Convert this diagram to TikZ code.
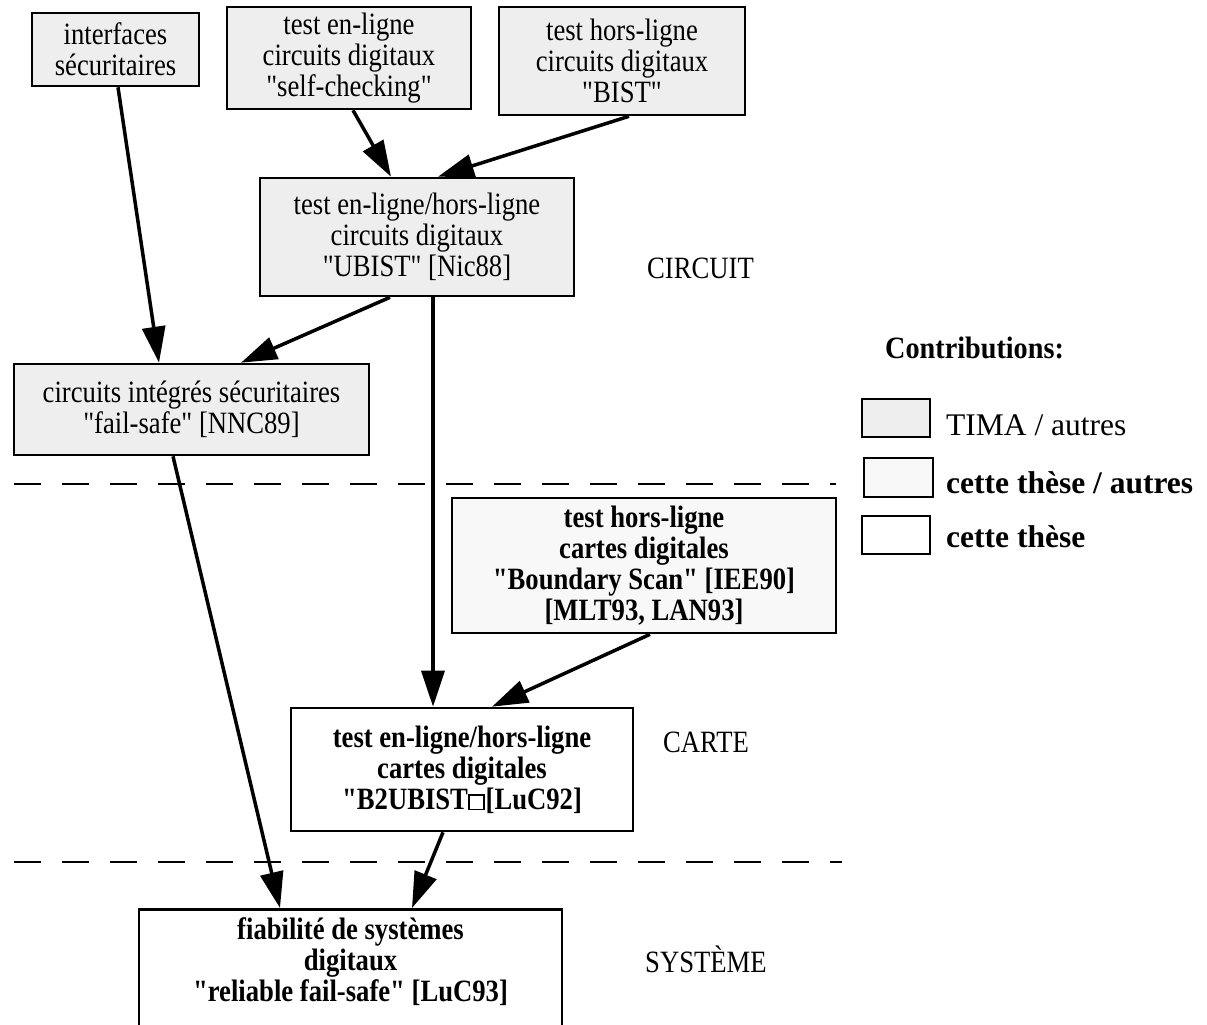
\documentclass[tikz,border=0pt]{standalone}
\usepackage{fontspec}
\setmainfont[FakeStretch=0.86,Ligatures=TeXOff]{Liberation Serif}
\newfontfamily\legendfont[Ligatures=TeXOff]{Liberation Serif}
\newfontfamily\contribfont[FakeStretch=0.91,Ligatures=TeXOff]{Liberation Serif}
\usetikzlibrary{arrows.meta}
\definecolor{tima}{HTML}{EEEEEE}
\definecolor{mixed}{HTML}{F8F8F8}
\newcommand\missglyph{\begingroup\setlength\fboxsep{0pt}\setlength\fboxrule{1.8pt}\raisebox{0.5pt}{\fbox{\rule{0pt}{13pt}\hspace{13pt}}}\hspace{1pt}\endgroup}
\begin{document}
\begin{tikzpicture}[x=1pt,y=-1pt,
  every node/.style={font=\fontsize{31}{31}\selectfont, inner sep=0pt},
  box/.style={draw, line width=2.6pt, align=center},
  timabox/.style={box, fill=tima},
  mixbox/.style={box, fill=mixed, font=\fontsize{31}{31}\selectfont\bfseries},
  ourbox/.style={box, fill=white, font=\fontsize{31}{31}\selectfont\bfseries},
  link/.style={line width=3.5pt, -{Triangle[length=36pt,width=23pt]}},
  sep/.style={line width=2.6pt, dash pattern=on 27pt off 21pt},
  lbl/.style={anchor=base west},
  leglbl/.style={anchor=base west, font=\legendfont\fontsize{31.5}{31}\selectfont},
  legbold/.style={anchor=base west, font=\legendfont\fontsize{31.5}{31}\selectfont\bfseries},
  legbox/.style={draw, line width=2.6pt}]
\useasboundingbox[fill=white] (0,0) rectangle (1207,1025);

% separators
\coordinate (d1a) at (14,484);
\coordinate (d1b) at (836,484);
\coordinate (d2a) at (14,862);
\coordinate (d2b) at (842,862);
\draw[sep] (d1a) -- (d1b);
\draw[sep] (d2a) -- (d2b);

% boxes
\node[timabox, minimum width=167pt, minimum height=73pt] (interfaces) at (115.5,49.5) {interfaces\\sécuritaires};
\node[timabox, minimum width=244pt, minimum height=102pt] (selfcheck) at (349,58) {test en-ligne\\circuits digitaux\\"self-checking"};
\node[timabox, minimum width=246pt, minimum height=108pt] (bist) at (622,61) {test hors-ligne\\circuits digitaux\\"BIST"};
\node[timabox, minimum width=314pt, minimum height=118pt] (ubist) at (417,237) {test en-ligne/hors-ligne\\circuits digitaux\\"UBIST" [Nic88]};
\node[timabox, minimum width=355pt, minimum height=91pt] (failsafe) at (191.5,409.5) {circuits intégrés sécuritaires\\"fail-safe" [NNC89]};
\node[mixbox, minimum width=384pt, minimum height=135pt] (bscan) at (644,565.5) {test hors-ligne\\cartes digitales\\"Boundary Scan" [IEE90]\\{}[MLT93, LAN93]};
\node[ourbox, minimum width=342pt, minimum height=123pt] (b2ubist) at (462,769.5) {test en-ligne/hors-ligne\\cartes digitales\\"B2UBIST\missglyph[LuC92]};
\node[ourbox, minimum width=423pt, minimum height=200pt, anchor=north] (fiab) at (350.5,908) {};
\node[align=center, font=\fontsize{31}{31}\selectfont\bfseries] (fiabtxt) at (350.5,962) {fiabilité de systèmes\\digitaux\\"reliable fail-safe" [LuC93]};

% level labels
\node[lbl] (circuit) at (647,278) {CIRCUIT};
\node[lbl] (carte) at (663,752) {CARTE};
\node[lbl] (systeme) at (645,972) {SYSTÈME};

% legend
\node[anchor=base west, font=\contribfont\fontsize{31}{31}\selectfont\bfseries] (contrib) at (885,358) {Contributions:};
\node[legbox, fill=tima, minimum width=68pt, minimum height=38pt] (leg1) at (896,418) {};
\node[legbox, fill=mixed, minimum width=69pt, minimum height=39pt] (leg2) at (898.5,477.5) {};
\node[legbox, fill=white, minimum width=68pt, minimum height=38pt] (leg3) at (896,535) {};
\node[leglbl] (leg1t) at (946,435) {TIMA / autres};
\node[legbold] (leg2t) at (946,493) {cette thèse / autres};
\node[legbold] (leg3t) at (946,547) {cette thèse};

% connectors
\draw[link] ([xshift=2.5pt]interfaces.south) -- ([xshift=-32.5pt]failsafe.north);
\draw[link] ([xshift=4pt]selfcheck.south) -- ([xshift=-26pt]ubist.north);
\draw[link] ([xshift=7pt]bist.south) -- ([xshift=21pt]ubist.north);
\draw[link] ([xshift=-27pt]ubist.south) -- ([xshift=49.5pt]failsafe.north);
\draw[link] ([xshift=16pt]ubist.south) -- ([xshift=-29pt]b2ubist.north);
\draw[link] ([xshift=-18.5pt]failsafe.south) -- ([xshift=-70.5pt]fiab.north);
\draw[link] ([xshift=6pt]bscan.south) -- ([xshift=30pt]b2ubist.north);
\draw[link] ([xshift=-19pt]b2ubist.south) -- ([xshift=61.5pt]fiab.north);
\end{tikzpicture}
\end{document}
